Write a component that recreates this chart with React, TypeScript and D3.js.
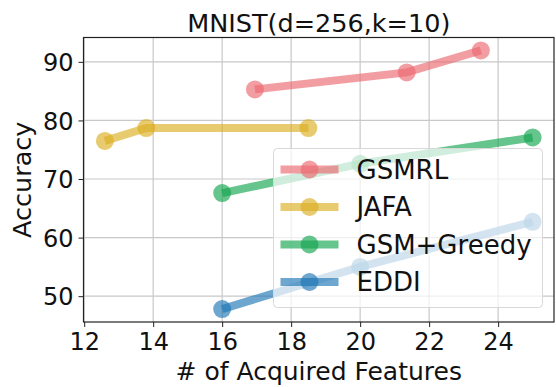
import React, { useEffect, useRef } from 'react';
import * as d3 from 'd3';

interface IPoint {
  x: number;
  y: number;
}

const seriesNames = ['GSMRL', 'JAFA', 'GSM+Greedy', 'EDDI'];
const seriesColors = ['#eb6870', '#dcae22', '#14a550', '#1f77b4'];

const gsmrlX = [16.95, 21.35, 23.5];
const gsmrlY = [85.3, 88.2, 91.95];
const jafaX = [12.6, 13.8, 18.5];
const jafaY = [76.5, 78.7, 78.7];
const greedyX = [16, 20, 25];
const greedyY = [67.6, 72.6, 77.1];
const eddiX = [16, 20, 25];
const eddiY = [47.8, 55, 62.7];

const xTicks = [12, 14, 16, 18, 20, 22, 24];
const yTicks = [50, 60, 70, 80, 90];

const title = 'MNIST(d=256,k=10)';
const xLabel = '# of Acquired Features';
const yLabel = 'Accuracy';

const FONT = '"DejaVu Sans", sans-serif';

const zip = (xs: number[], ys: number[]): IPoint[] => xs.map((x, i) => ({ x, y: ys[i] }));

const Chart = () => {
  const divRef = useRef<HTMLDivElement>(null);

  useEffect(() => {
    drawChart(divRef);
  }, [divRef]);

  return <div id='chart-container' ref={divRef} style={{ position: 'absolute', left: 0, top: 0 }}></div>;
};

function drawChart(divRef: React.RefObject<HTMLDivElement>) {
  const W = 556,
    H = 387;
  const margin = { top: 37.5, right: 2, bottom: 65, left: 83.5 };
  const width = W - margin.left - margin.right,
    height = H - margin.top - margin.bottom;

  d3.select(divRef.current).select('svg').remove();

  const root = d3
    .select(divRef.current)
    .append('svg')
    .attr('width', W)
    .attr('height', H)
    .style('display', 'block')
    .style('font-family', FONT);

  root.append('rect').attr('width', W).attr('height', H).attr('fill', 'white');

  const series = [
    zip(gsmrlX, gsmrlY),
    zip(jafaX, jafaY),
    zip(greedyX, greedyY),
    zip(eddiX, eddiY),
  ];

  // matplotlib style 5% margins
  const allX = [...gsmrlX, ...jafaX, ...greedyX, ...eddiX];
  const allY = [...gsmrlY, ...jafaY, ...greedyY, ...eddiY];
  const [x0, x1] = d3.extent(allX) as [number, number];
  const [y0, y1] = d3.extent(allY) as [number, number];
  const px = (x1 - x0) * 0.05,
    py = (y1 - y0) * 0.05;

  const x = d3.scaleLinear().domain([x0 - px, x1 + px]).range([0, width]);
  const y = d3.scaleLinear().domain([y0 - py, y1 + py]).range([height, 0]);

  const svg = root.append('g').attr('transform', `translate(${margin.left},${margin.top})`);

  // grid
  svg
    .append('g')
    .selectAll('line')
    .data(xTicks)
    .join('line')
    .attr('x1', (d) => x(d))
    .attr('x2', (d) => x(d))
    .attr('y1', 0)
    .attr('y2', height)
    .attr('stroke', '#c8c8c8')
    .attr('stroke-width', 1.2);
  svg
    .append('g')
    .selectAll('line')
    .data(yTicks)
    .join('line')
    .attr('x1', 0)
    .attr('x2', width)
    .attr('y1', (d) => y(d))
    .attr('y2', (d) => y(d))
    .attr('stroke', '#c8c8c8')
    .attr('stroke-width', 1.2);

  // lines + markers
  const line = d3
    .line<IPoint>()
    .x((d) => x(d.x))
    .y((d) => y(d.y));

  series.forEach((data, i) => {
    const g = svg.append('g');
    g.append('path')
      .datum(data)
      .attr('fill', 'none')
      .attr('stroke', seriesColors[i])
      .attr('stroke-opacity', 0.65)
      .attr('stroke-width', 8)
      .attr('d', line);
    g.selectAll('circle')
      .data(data)
      .join('circle')
      .attr('cx', (d) => x(d.x))
      .attr('cy', (d) => y(d.y))
      .attr('r', 9)
      .attr('fill', seriesColors[i])
      .attr('fill-opacity', 0.65);
  });

  // axes
  const xAxis = svg
    .append('g')
    .attr('transform', `translate(0,${height})`)
    .call(d3.axisBottom(x).tickValues(xTicks).tickFormat(d3.format('d')).tickSize(5).tickPadding(6));
  const yAxis = svg
    .append('g')
    .call(d3.axisLeft(y).tickValues(yTicks).tickFormat(d3.format('d')).tickSize(5).tickPadding(5));

  [xAxis, yAxis].forEach((a) => {
    a.select('.domain').remove();
    a.selectAll('line').attr('stroke', '#222');
    a.selectAll('text')
      .attr('fill', '#111')
      .style('font-size', '24px')
      .style('font-family', FONT);
  });
  yAxis.selectAll('text').attr('dy', '0.36em');

  // spines
  svg
    .append('rect')
    .attr('width', width)
    .attr('height', height)
    .attr('fill', 'none')
    .attr('stroke', '#222')
    .attr('stroke-width', 1.2);

  // legend
  const lg = svg.append('g').attr('transform', `translate(${273.5 - margin.left},${148.5 - margin.top})`);
  lg.append('rect')
    .attr('width', 269)
    .attr('height', 159)
    .attr('rx', 4)
    .attr('fill', 'white')
    .attr('fill-opacity', 0.7)
    .attr('stroke', '#d8d8d8')
    .attr('stroke-width', 1);
  seriesNames.forEach((name, i) => {
    const cy = 21 + i * 37.5;
    lg.append('line')
      .attr('x1', 7)
      .attr('x2', 65)
      .attr('y1', cy)
      .attr('y2', cy)
      .attr('stroke', seriesColors[i])
      .attr('stroke-opacity', 0.65)
      .attr('stroke-width', 8);
    lg.append('circle')
      .attr('cx', 36)
      .attr('cy', cy)
      .attr('r', 9)
      .attr('fill', seriesColors[i])
      .attr('fill-opacity', 0.65);
    lg.append('text')
      .attr('x', 83)
      .attr('y', cy)
      .attr('dy', '0.36em')
      .attr('fill', '#111')
      .style('font-size', '26px')
      .text(name);
  });

  // labels
  root
    .append('text')
    .attr('x', margin.left + width / 2)
    .attr('y', 32)
    .attr('text-anchor', 'middle')
    .attr('fill', '#111')
    .style('font-size', '25.5px')
    .text(title);
  root
    .append('text')
    .attr('x', margin.left + width / 2)
    .attr('y', 380)
    .attr('text-anchor', 'middle')
    .attr('fill', '#111')
    .style('font-size', '25px')
    .text(xLabel);
  root
    .append('text')
    .attr('transform', `translate(31,${margin.top + height / 2}) rotate(-90)`)
    .attr('text-anchor', 'middle')
    .attr('fill', '#111')
    .style('font-size', '25.5px')
    .text(yLabel);
}

export default function App() {
  return <Chart />;
}
